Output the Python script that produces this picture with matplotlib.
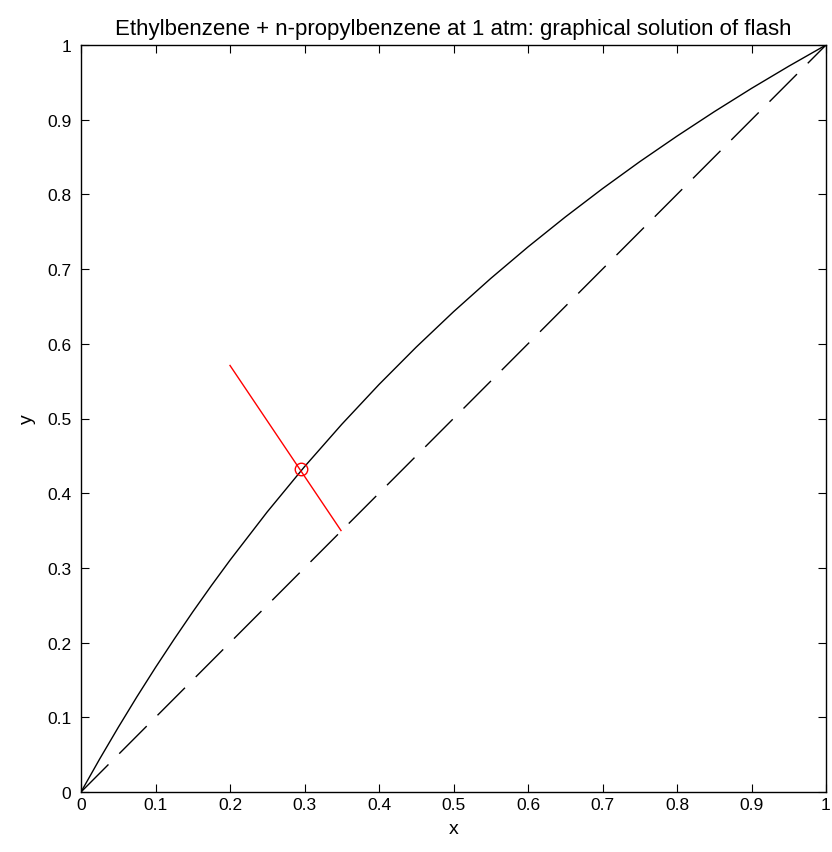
import numpy as np
import matplotlib
matplotlib.use("Agg")
import matplotlib.pyplot as plt

plt.rcParams['font.family'] = ['Liberation Sans', 'DejaVu Sans']

# equilibrium curve
x_eq = [0, 0.025, 0.05, 0.075, 0.1, 0.125, 0.15, 0.175, 0.2, 0.25, 0.3, 0.35, 0.4, 0.45, 0.5,
        0.55, 0.6, 0.65, 0.7, 0.75, 0.8, 0.85, 0.9, 0.95, 1.0]
y_eq = [0, 0.0441, 0.0865, 0.1274, 0.1667, 0.2045, 0.2411, 0.2763, 0.3103, 0.375, 0.4355,
        0.4922, 0.5455, 0.5956, 0.6429, 0.6875, 0.7297, 0.7697, 0.8077, 0.8438, 0.878,
        0.9107, 0.9419, 0.9716, 1.0]

# 45 degree line
x_diag = [0, 1]
y_diag = [0, 1]

# operating line of the flash
x_op = [0.2, 0.349]
y_op = [0.571, 0.350]

# solution point
x_sol = [0.295]
y_sol = [0.433]

fig = plt.figure(figsize=(8.32, 8.53), dpi=100)
ax = fig.add_axes([81/832, 60/853, 745/832, 747/853])

ax.plot(x_eq, y_eq, color='black', lw=1)
ax.plot(x_diag, y_diag, color='black', lw=1, dashes=(28, 11))
ax.plot(x_op, y_op, color='red', lw=1)
ax.plot(x_sol, y_sol, 'o', mfc='none', mec='red', ms=9, mew=1)

ax.set_xlim(0, 1)
ax.set_ylim(0, 1)
ticks = np.arange(0, 1.01, 0.1)
labels = ['0', '0.1', '0.2', '0.3', '0.4', '0.5', '0.6', '0.7', '0.8', '0.9', '1']
ax.set_xticks(ticks)
ax.set_yticks(ticks)
ax.set_xticklabels(labels)
ax.set_yticklabels(labels)
ax.tick_params(direction='in', top=True, right=True, labelsize=12.5, length=6)
ax.tick_params(axis='y', pad=7)
for s in ax.spines.values():
    s.set_linewidth(1)

ax.set_xlabel('x', fontsize=14, labelpad=6)
ax.set_ylabel('y', fontsize=14, labelpad=8)
ax.set_title('Ethylbenzene + n-propylbenzene at 1 atm: graphical solution of flash',
             fontsize=16, pad=8)

plt.savefig('out.png', dpi=100)
